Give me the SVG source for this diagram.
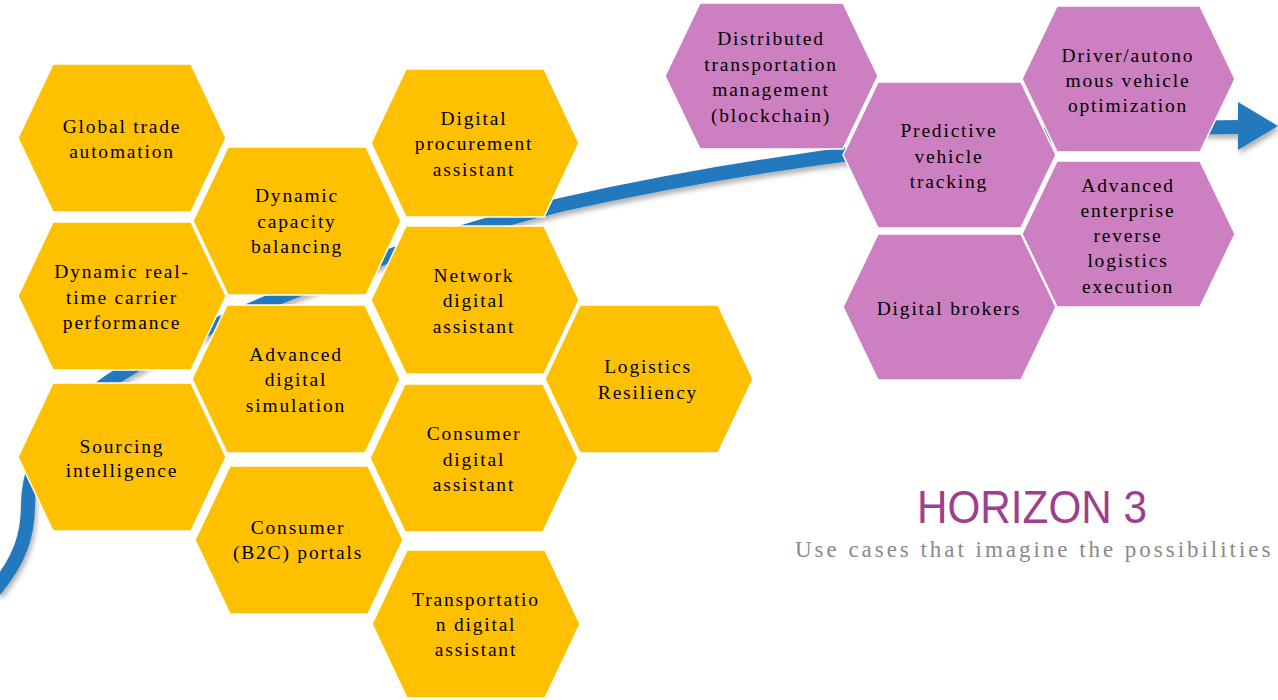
<svg xmlns="http://www.w3.org/2000/svg" xmlns:xlink="http://www.w3.org/1999/xlink" width="1278" height="700" viewBox="0 0 1278 700">
<defs>
<style>
.hy{fill:#FFC000;stroke:#fff;stroke-width:1.5}
.hp{fill:#CD80C1;stroke:#fff;stroke-width:1.5}
.t{font-family:"Liberation Serif","Times New Roman",serif;font-size:19.5px;fill:#000;text-anchor:middle;letter-spacing:1.8px}
.h3{font-family:"Liberation Sans",Arial,sans-serif;font-size:47px;fill:#9E3E8F}
.sub{font-family:"Liberation Serif","Times New Roman",serif;font-size:23px;fill:#8A8A8A;letter-spacing:1.6px}
</style>
<polygon id="hexy" points="35,0 173,0 208,74 173,148 35,148 0,74"/>
<polygon id="hexp" points="35,0 178,0 213,73 178,146 35,146 0,73"/>
<filter id="sh" x="-5%" y="-20%" width="110%" height="140%">
<feDropShadow dx="2" dy="4" stdDeviation="2.5" flood-color="#000" flood-opacity="0.3"/>
</filter>
</defs>
<rect width="1278" height="700" fill="#fff"/>
<g id="connectors" filter="url(#sh)">
<path d="M -5,590 C 20,560 28,535 28,505 C 28,440 80,395 150,357 C 250,305 400,245 560,205 C 760,160 1000,128 1242,127" fill="none" stroke="#2479BD" stroke-width="14"/>
<polygon points="1238,102 1278,126 1238,150" fill="#2479BD"/>
</g>
<g id="n-global"><use xlink:href="#hexy" class="hy" x="18" y="64"/><text class="t"><tspan x="122" y="133">Global trade</tspan><tspan x="122" y="158">automation</tspan></text></g>
<g id="n-realtime"><use xlink:href="#hexy" class="hy" x="18" y="222"/><text class="t"><tspan x="122" y="278">Dynamic real-</tspan><tspan x="122" y="304">time carrier</tspan><tspan x="122" y="329">performance</tspan></text></g>
<g id="n-sourcing"><use xlink:href="#hexy" class="hy" x="18" y="383"/><text class="t"><tspan x="122" y="453">Sourcing</tspan><tspan x="122" y="477">intelligence</tspan></text></g>
<g id="n-capacity"><use xlink:href="#hexy" class="hy" x="193" y="147"/><text class="t"><tspan x="297" y="202">Dynamic</tspan><tspan x="297" y="228">capacity</tspan><tspan x="297" y="253">balancing</tspan></text></g>
<g id="n-simulation"><use xlink:href="#hexy" class="hy" x="192" y="305"/><text class="t"><tspan x="296" y="361">Advanced</tspan><tspan x="296" y="386">digital</tspan><tspan x="296" y="412">simulation</tspan></text></g>
<g id="n-b2c"><use xlink:href="#hexy" class="hy" x="195" y="466"/><text class="t"><tspan x="298" y="534">Consumer</tspan><tspan x="298" y="559">(B2C) portals</tspan></text></g>
<g id="n-procurement"><use xlink:href="#hexy" class="hy" x="371" y="69"/><text class="t"><tspan x="474" y="125">Digital</tspan><tspan x="474" y="150">procurement</tspan><tspan x="474" y="176">assistant</tspan></text></g>
<g id="n-network"><use xlink:href="#hexy" class="hy" x="371" y="226"/><text class="t"><tspan x="474" y="282">Network</tspan><tspan x="474" y="307">digital</tspan><tspan x="474" y="333">assistant</tspan></text></g>
<g id="n-consumerda"><use xlink:href="#hexy" class="hy" x="370" y="384"/><text class="t"><tspan x="474" y="440">Consumer</tspan><tspan x="474" y="466">digital</tspan><tspan x="474" y="491">assistant</tspan></text></g>
<g id="n-transportda"><use xlink:href="#hexy" class="hy" x="372" y="550"/><text class="t"><tspan x="476" y="606">Transportatio</tspan><tspan x="476" y="631">n digital</tspan><tspan x="476" y="656">assistant</tspan></text></g>
<g id="n-resiliency"><use xlink:href="#hexy" class="hy" x="545" y="305"/><text class="t"><tspan x="648" y="373">Logistics</tspan><tspan x="648" y="399">Resiliency</tspan></text></g>
<g id="n-distributed"><use xlink:href="#hexp" class="hp" x="665" y="3"/><text class="t"><tspan x="771" y="45">Distributed</tspan><tspan x="771" y="71">transportation</tspan><tspan x="771" y="96">management</tspan><tspan x="771" y="122">(blockchain)</tspan></text></g>
<g id="n-predictive"><use xlink:href="#hexp" class="hp" x="843" y="82"/><text class="t"><tspan x="949" y="137">Predictive</tspan><tspan x="949" y="163">vehicle</tspan><tspan x="949" y="188">tracking</tspan></text></g>
<g id="n-brokers"><use xlink:href="#hexp" class="hp" x="843" y="234"/><text class="t"><tspan x="949" y="315">Digital brokers</tspan></text></g>
<g id="n-driver"><use xlink:href="#hexp" class="hp" x="1022" y="6"/><text class="t"><tspan x="1128" y="62">Driver/autono</tspan><tspan x="1128" y="87">mous vehicle</tspan><tspan x="1128" y="112">optimization</tspan></text></g>
<g id="n-reverse"><use xlink:href="#hexp" class="hp" x="1022" y="161"/><text class="t"><tspan x="1128" y="192">Advanced</tspan><tspan x="1128" y="217">enterprise</tspan><tspan x="1128" y="242">reverse</tspan><tspan x="1128" y="267">logistics</tspan><tspan x="1128" y="293">execution</tspan></text></g>
<g id="title">
<text class="h3" x="917" y="523" textLength="230" lengthAdjust="spacingAndGlyphs">HORIZON 3</text>
<text class="sub" x="795" y="557" textLength="477">Use cases that imagine the possibilities</text>
</g>
</svg>
